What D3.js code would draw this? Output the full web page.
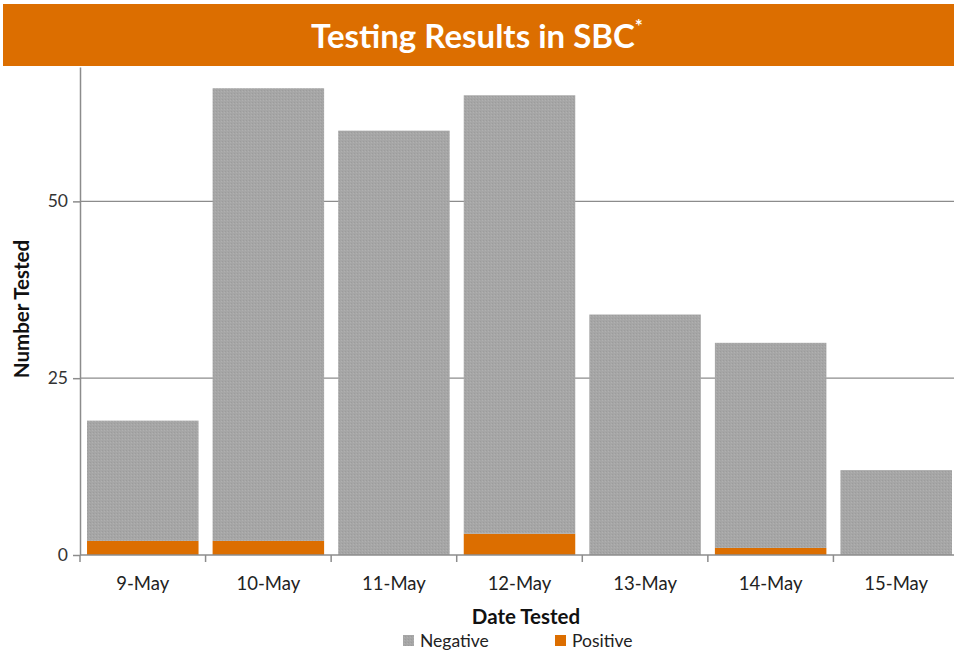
<!DOCTYPE html>
<html><head><meta charset="utf-8">
<script src="https://cdn.jsdelivr.net/npm/d3@7"></script>
<style>body{margin:0;background:#fff;}svg{display:block;font-family:Lato,"Open Sans",sans-serif;}</style>
</head><body>
<svg id="c" width="954" height="653"></svg>
<script>
const categories = ["9-May","10-May","11-May","12-May","13-May","14-May","15-May"];
const negative = [17, 64, 60, 62, 34, 29, 12];
const positive = [2, 2, 0, 3, 0, 1, 0];
const yTicks = [0, 25, 50];
const seriesNames = ["Negative","Positive"];
const colors = {Negative:"#a6a6a6", Positive:"#dc6e00"};

const svg = d3.select("#c");
const defs = svg.append("defs");
const pat = defs.append("pattern").attr("id","tex").attr("width",3).attr("height",3).attr("patternUnits","userSpaceOnUse");
pat.append("rect").attr("width",3).attr("height",3).attr("fill","#a6a6a6");
pat.append("rect").attr("x",0).attr("y",0).attr("width",1).attr("height",1).attr("fill","#9c9c9c");
pat.append("rect").attr("x",2).attr("y",1).attr("width",1).attr("height",1).attr("fill","#b0b0b0");

// title bar
svg.append("rect").attr("x",3).attr("y",4).attr("width",951).attr("height",62).attr("fill","#dc6e00");
const t = svg.append("text").attr("x",477).attr("y",48).attr("text-anchor","middle")
  .attr("fill","#fff").attr("font-weight","bold").attr("font-size",33).attr("font-family","Lato,sans-serif");
t.append("tspan").text("Testing Results in SBC");
t.append("tspan").text("*").attr("font-size",19).attr("dy",-15);

const x = d3.scaleBand().domain(categories).range([80, 959]).paddingInner(0.112).paddingOuter(0.056);
const y = d3.scaleLinear().domain([0, 69]).range([555, 67]);

// gridlines
svg.append("g").selectAll("line").data(yTicks.filter(d=>d>0)).join("line")
  .attr("x1",80).attr("x2",954).attr("y1",d=>y(d)).attr("y2",d=>y(d))
  .attr("stroke","#8c8c8c").attr("stroke-width",1.3);

// stacked data
const rows = categories.map((c,i)=>({cat:c, Negative:negative[i], Positive:positive[i]}));
const stack = d3.stack().keys(["Positive","Negative"])(rows);
svg.append("g").selectAll("g").data(stack).join("g")
  .attr("fill", s => s.key==="Negative" ? "url(#tex)" : colors.Positive)
  .selectAll("rect").data(s=>s).join("rect")
  .attr("x", d=>x(d.data.cat)).attr("width", x.bandwidth())
  .attr("y", d=>y(d[1])).attr("height", d=>y(d[0])-y(d[1]));

// y axis
const ya = svg.append("g").attr("transform","translate(80,0)")
  .call(d3.axisLeft(y).tickValues(yTicks).tickSize(7).tickSizeOuter(0).tickFormat(d3.format("d")));
ya.select(".domain").attr("stroke","#8c8c8c").attr("stroke-width",1.5);
ya.selectAll(".tick line").attr("stroke","#8c8c8c").attr("stroke-width",1.5);
ya.selectAll(".tick text").attr("font-size",17.5).attr("fill","#333").attr("x",-12).attr("font-family","Lato,sans-serif");

// x axis
const xa = svg.append("g").attr("transform","translate(0,555)");
xa.append("line").attr("x1",80).attr("x2",954).attr("stroke","#8c8c8c").attr("stroke-width",1.5);
const bounds = categories.map(c=>x(c)-x.step()*x.paddingInner()/2).concat([x(categories[6])+x.bandwidth()+x.step()*x.paddingInner()/2]);
xa.selectAll("line.tk").data(bounds).join("line").attr("class","tk")
  .attr("x1",d=>d).attr("x2",d=>d).attr("y1",0).attr("y2",7).attr("stroke","#8c8c8c").attr("stroke-width",1.5);
xa.selectAll("text").data(categories).join("text")
  .attr("x",d=>x(d)+x.bandwidth()/2).attr("y",35).attr("text-anchor","middle")
  .attr("font-size",18.5).attr("fill","#222").text(d=>d);

// axis titles
svg.append("text").attr("transform","translate(29,309) rotate(-90)").attr("text-anchor","middle")
  .attr("font-weight","bold").attr("font-size",20.5).attr("fill","#111").text("Number Tested");
svg.append("text").attr("x",526).attr("y",624).attr("text-anchor","middle")
  .attr("font-weight","bold").attr("font-size",20.5).attr("fill","#111").text("Date Tested");

// legend
const lg = svg.append("g");
const lx = [403, 555];
seriesNames.forEach((n,i)=>{
  lg.append("rect").attr("x",lx[i]).attr("y",635).attr("width",11).attr("height",11)
    .attr("fill", n==="Negative" ? "url(#tex)" : colors.Positive);
  lg.append("text").attr("x",lx[i]+17).attr("y",647).attr("font-size",17.5).attr("fill","#222").text(n);
});
</script>
</body></html>
